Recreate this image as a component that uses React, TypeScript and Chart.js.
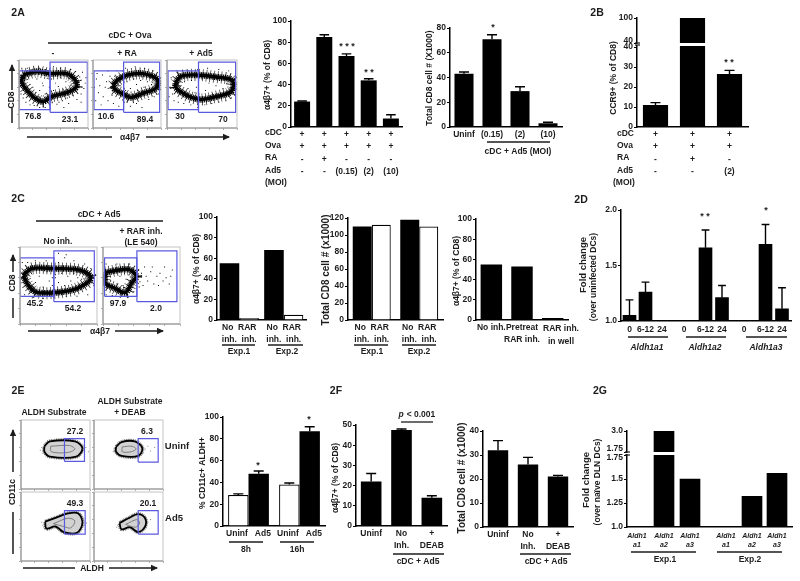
import React, { useEffect, useRef } from "react";
import { Chart, registerables } from "chart.js";

Chart.register(...registerables);

/* ---------- values ---------- */
const a1Labels = [["+", "+", "-", "-"], ["+", "+", "+", "-"], ["+", "+", "-", "(0.15)"], ["+", "+", "-", "(2)"], ["+", "+", "-", "(10)"]];
const a1Values = [24, 85, 67, 44, 8];
const a1Tops = [24.5, 87, 69, 45.5, 11.5];
const a2Labels = ["Uninf", "(0.15)", "(2)", "(10)"];
const a2Values = [43, 71, 29, 3];
const a2Tops = [44.5, 74.5, 32.5, 3.8];
const bLabels = [["+", "+", "-", "-"], ["+", "+", "+", "-"], ["+", "+", "-", "(2)"]];
const bValues = [11, 100, 26.5];
const bTops = [12.2, null, 28.3];
const c1Labels = [["No  RAR", "inh.  inh."], ["No  RAR", "inh.  inh."]];
const c1NoInh = [55, 68];
const c1Rar = [2, 5];
const c2NoInh = [110, 118];
const c2Rar = [112, 110];
const c3Labels = ["No inh.", ["Pretreat", "RAR inh."], ""];
const c3Values = [55, 53, 2];
const dLabels = ["0", "6-12", "24", "0", "6-12", "24", "0", "6-12", "24"];
const dValues = [1.05, 1.26, null, null, 1.66, 1.21, null, 1.69, 1.11];
const dTops = [1.19, 1.35, null, null, 1.82, 1.32, null, 1.87, 1.3];
const e1Labels = ["Uninf   Ad5", "Uninf   Ad5"];
const e1Uninf = [28.5, 38];
const e1Ad5 = [48, 87];
const e1UninfTops = [29.5, 39.5];
const e1Ad5Tops = [50.5, 91];
const f1Labels = ["Uninf", ["No", "Inh."], ["+", "DEAB"]];
const f1Values = [22, 47.5, 14];
const f1Tops = [26, 48, 15];
const f2Values = [32, 26, 21];
const f2Tops = [36, 29, 21.5];
const gLabels = [["Aldh1", "a1"], ["Aldh1", "a2"], ["Aldh1", "a3"], ["Aldh1", "a1"], ["Aldh1", "a2"], ["Aldh1", "a3"]];
const gValues = [null, 3, 1.5, null, 1.32, 1.56];

/* flow cytometry outlines and events, in percent of each plot */
type P = number[];
const contourA1: P[] = [[6,78],[25,83],[45,80],[69,80],[81,71],[83,60],[69,52],[47,46],[35,39],[23,44],[11,56],[4,68],[6,78]];
const contourA2: P[] = [[29,63],[37,71],[51,78],[73,80],[94,72],[93,59],[73,51],[56,45],[44,50],[32,57],[29,63]];
const contourA3: P[] = [[12,66],[20,76],[42,78],[70,75],[93,70],[92,54],[70,46],[49,42],[35,45],[23,51],[13,59],[12,66]];
const contourC1: P[] = [[4,63],[15,72],[43,72],[78,70],[92,60],[78,48],[57,42],[22,41],[11,50],[4,63]];
const contourC2: P[] = [[3,67],[33,71],[43,62],[37,53],[29,41],[14,47],[3,53],[3,67]];
const contourE1: P[] = [[34,62],[42,69],[78,69],[89,59],[80,47],[42,47],[34,54],[34,62]];
const contourE2: P[] = [[32,61],[40,68],[59,69],[70,59],[64,48],[40,48],[32,54],[32,61]];
const contourE3: P[] = [[35,57],[49,62],[68,69],[83,69],[89,55],[81,41],[62,42],[50,50],[37,47],[35,57]];
const contourE4: P[] = [[37,55],[50,62],[64,68],[74,62],[74,50],[64,42],[52,49],[40,46],[37,55]];
const innerE1: P[] = [[43,62],[70,63],[78,58],[68,53],[44,54],[43,62]];
const innerE2: P[] = [[41,61],[55,62],[61,58],[54,54],[41,54],[41,61]];
const innerE3: P[] = [[47,54],[68,62],[78,58],[72,48],[62,50],[47,54]];
const innerE4: P[] = [[46,53],[62,60],[66,55],[60,49],[46,53]];
const dotsA1: P[] = [[8,70],[14,75],[20,60],[26,72],[30,55],[34,66],[38,50],[41,73],[16,64],[24,52],[29,46],[35,62],[44,60],[47,72],[50,55],[53,66],[57,61],[60,74],[64,57],[68,68],[72,73],[75,62],[58,38],[63,40],[70,44],[78,48],[84,42],[90,50],[94,58],[96,66],[88,75],[82,83],[75,86],[60,88],[50,90],[55,35],[65,30],[72,36],[48,37],[90,38],[97,74],[92,82],[4,88],[12,88],[30,88],[38,86],[3,50],[6,44],[10,38],[16,34],[22,33],[30,30],[38,30],[44,34]];
const dotsA2: P[] = [[45,60],[50,68],[55,58],[60,72],[64,64],[70,70],[75,60],[80,68],[86,64],[58,50],[66,55],[72,75],[40,62],[84,74],[48,55],[5,72],[10,62],[14,78],[20,68],[25,76],[8,52],[15,46],[22,40],[18,60],[28,48],[4,40],[12,34],[30,36],[38,32],[46,38],[55,32],[64,36],[72,30],[82,42],[90,46],[96,50],[2,60],[6,80],[22,84],[35,84],[48,88],[62,90],[76,88],[88,84],[32,76],[26,60]];
const dotsA3: P[] = [[25,68],[30,58],[35,70],[40,52],[45,64],[50,72],[55,55],[60,66],[65,50],[70,62],[75,70],[80,58],[85,65],[88,52],[28,50],[42,60],[4,60],[6,74],[8,50],[10,40],[16,38],[24,36],[34,34],[44,30],[54,34],[64,36],[74,38],[84,40],[92,44],[97,56],[96,76],[88,84],[74,86],[58,88],[44,86],[30,84],[14,84],[3,46]];
const dotsC1: P[] = [[10,60],[15,66],[20,54],[25,62],[30,48],[35,68],[38,56],[42,50],[46,64],[42,60],[46,60],[50,54],[54,66],[58,50],[62,62],[66,56],[70,66],[75,60],[80,58],[18,48],[28,70],[3,80],[10,80],[20,82],[34,82],[50,80],[58,86],[70,82],[84,78],[92,72],[96,50],[88,38],[74,36],[60,36],[44,34],[30,33],[16,34],[6,38],[50,92],[60,90]];
const dotsC2: P[] = [[6,62],[10,56],[14,66],[18,52],[22,62],[26,50],[30,58],[34,64],[12,50],[20,46],[28,66],[36,56],[46,62],[48,55],[50,66],[52,50],[56,62],[58,56],[62,68],[66,52],[70,62],[74,66],[78,56],[82,60],[88,62],[90,70],[64,74],[72,50],[54,74],[46,70],[47,48],[80,74],[86,52],[4,38],[12,37],[24,36],[32,36],[40,42],[4,78],[18,78],[34,78]];
const dotsE1: P[] = [[90,58],[94,60],[98,54],[92,52],[30,60],[28,56],[31,52]];
const dotsE2: P[] = [[74,58],[78,62],[82,55],[88,60],[72,52],[29,58],[28,54]];
const dotsE3: P[] = [[92,52],[95,55],[90,60],[93,46],[31,52],[33,48],[30,56]];
const dotsE4: P[] = [[78,56],[82,60],[76,48],[34,52],[33,49]];
const gateCellsA: P[][] = [[[0,27],[45,27],[45,84],[0,84],[0,27]], [[45,23],[99,23],[99,97],[45,97],[45,23]]];
const gateCellsA2: P[][] = [[[1.5,27],[45,27],[45,84],[1.5,84],[1.5,27]], [[45,23],[98,23],[98,97],[45,97],[45,23]]];
const gateCellsC1: P[][] = [[[0,36],[44,36],[44,86],[0,86],[0,36]], [[44,29],[96.5,29],[96.5,95],[44,95],[44,29]]];
const gateCellsC2: P[][] = [[[2,36],[44,36],[44,86],[2,86],[2,36]], [[44,29],[96,29],[96,95],[44,95],[44,29]]];
const gateE: P[][] = [[[63,40],[92,40],[92,73],[63,73],[63,40]]];

/* ---------- page text and rules ---------- */
const FONT = '"Liberation Sans", Arial, sans-serif';
const INK = "#1c1c1c";
type Item = any;
const T = (s: string, x: number, y: number, o: any = {}): Item => ({ k: "t", s, x, y, ...o });
const R = (s: string, x: number, y: number, o: any = {}): Item => ({ k: "t", s, x, y, rot: true, ...o });
const L = (x1: number, y1: number, x2: number, y2: number, w = 1.3): Item => ({ k: "l", x1, y1, x2, y2, w });
const AR = (x1: number, y1: number, x2: number, y2: number): Item => ({ k: "a", x1, y1, x2, y2 });

const pageItems: Item[] = [
  T("2A", 18, 13, { size: 10.5 }), T("2B", 597, 13, { size: 10.5 }), T("2C", 18, 199, { size: 10.5 }),
  T("2D", 581, 200, { size: 10.5 }), T("2E", 18, 391, { size: 10.5 }), T("2F", 336, 391, { size: 10.5 }), T("2G", 600, 391, { size: 10.5 }),
  // 2A flow
  T("cDC + Ova", 130, 36), L(48, 43, 212, 43, 1.5), T("-", 53, 54), T("+ RA", 127, 54), T("+ Ad5", 201, 54),
  T("76.8", 33, 117), T("23.1", 70, 120), T("10.6", 106, 117), T("89.4", 145, 120), T("30", 180, 117), T("70", 223, 120),
  AR(12, 90, 12, 65), R("CD8", 12, 100), L(12, 108, 12, 123, 1.5), L(27, 137, 112, 137, 1.5), T("α4β7", 130, 138), AR(146, 137, 229, 137),
  // 2A bars
  R("α4β7+ (% of CD8)", 268, 75), T("* * *", 347, 47, { size: 9 }), T("* *", 369, 73, { size: 9 }),
  T("cDC", 265, 133, { align: "left" }), T("Ova", 265, 146, { align: "left" }), T("RA", 265, 158, { align: "left" }), T("Ad5", 265, 171, { align: "left" }), T("(MOI)", 265, 183, { align: "left" }),
  R("Total CD8 cell # (X1000)", 430, 78), T("*", 493, 28, { size: 9 }), L(487, 142, 550, 142, 1.3), T("cDC + Ad5 (MOI)", 518, 152),
  // 2B
  R("CCR9+ (% of CD8)", 614, 78), T("* *", 729, 63, { size: 9 }), L(635, 43, 640, 43, 1.2), L(635, 45, 640, 45, 1.2), T("40", 633, 41, { align: "right" }),
  T("cDC", 617, 134, { align: "left" }), T("Ova", 617, 146, { align: "left" }), T("RA", 617, 158, { align: "left" }), T("Ad5", 617, 171, { align: "left" }), T("(MOI)", 613, 183, { align: "left" }),
  // 2C flow
  T("cDC + Ad5", 99, 215), L(36, 221, 163, 221, 1.5), T("No inh.", 58, 242), T("+ RAR inh.", 141, 232), T("(LE 540)", 141, 243),
  T("45.2", 35, 304), T("54.2", 73, 309), T("97.9", 118, 304), T("2.0", 156, 309),
  AR(13, 272, 13, 255), R("CD8", 13, 283), L(13, 298, 13, 318, 1.5), L(28, 331, 81, 331, 1.5), T("α4β7", 100, 332), AR(115, 331, 163, 331),
  // 2C bars
  R("α4β7+ (% of CD8)", 197, 269), L(222, 345, 255, 345), T("Exp.1", 239, 352), L(268, 345, 303, 345), T("Exp.2", 287, 352),
  R("Total CD8 cell # (x1000)", 326, 270, { size: 10 }), L(354, 345, 388, 345), T("Exp.1", 372, 352), L(402, 345, 436, 345), T("Exp.2", 419, 352),
  R("α4β7+ (% of CD8)", 457, 271), T("RAR inh.", 561, 329), T("in well", 561, 342),
  // 2D
  R("Fold change", 583, 265, { size: 9.5 }), R("(over uninfected DCs)", 594, 277), T("* *", 705, 217, { size: 9 }), T("*", 766, 211, { size: 9 }),
  L(628, 337, 668, 337), L(686, 337, 726, 337), L(746, 337, 787, 337),
  T("Aldh1a1", 647, 348, { italic: true }), T("Aldh1a2", 705, 348, { italic: true }), T("Aldh1a3", 766, 348, { italic: true }),
  // 2E flow
  T("ALDH Substrate", 54, 413), T("ALDH Substrate", 130, 402), T("+ DEAB", 130, 413),
  T("27.2", 75, 432), T("6.3", 147, 432), T("49.3", 75, 504), T("20.1", 148, 504), T("Uninf", 177, 446, { size: 9.5 }), T("Ad5", 174, 518, { size: 9.5 }),
  AR(13, 472, 13, 430), R("CD11c", 13, 492), L(13, 512, 13, 554, 1.5), L(23, 568, 75, 568, 1.5), T("ALDH", 92, 569), AR(109, 568, 157, 568),
  // 2E bars
  R("% CD11c+ ALDH+", 203, 473), T("*", 258, 466, { size: 9 }), T("*", 309, 420, { size: 9 }),
  L(229, 542, 263, 542), T("8h", 246, 550), L(280, 542, 314, 542), T("16h", 297, 550),
  // 2F
  R("α4β7+ (% of CD8)", 336, 478), T("p", 401, 415, { italic: true }), T("< 0.001", 421, 415), L(401, 422, 433, 422), L(393, 554, 444, 554), T("cDC + Ad5", 418, 562),
  R("Total CD8 cell # (x1000)", 462, 478, { size: 10 }), L(520, 554, 571, 554), T("cDC + Ad5", 546, 562),
  // 2G
  R("Fold change", 586, 480, { size: 9.5 }), R("(over naïve DLN DCs)", 598, 482), L(625, 452, 630, 452, 1.2), L(625, 455, 630, 455, 1.2),
  T("1.75", 623, 449, { align: "right" }), T("1.75", 623, 458, { align: "right" }),
  L(631, 552, 696, 552), T("Exp.1", 665, 560), L(717, 552, 782, 552), T("Exp.2", 750, 560),
];

/* ---------- plugins ---------- */
const pagePlugin = {
  id: "page",
  afterDraw(chart: any) {
    const ctx = chart.ctx;
    ctx.save();
    ctx.strokeStyle = INK;
    ctx.fillStyle = INK;
    for (const it of pageItems) {
      if (it.k === "t") {
        ctx.save();
        ctx.font = `${it.italic ? "italic " : ""}bold ${it.size || 8.5}px ${FONT}`;
        ctx.textAlign = it.align || "center";
        ctx.textBaseline = "middle";
        ctx.translate(it.x, it.y);
        if (it.rot) ctx.rotate(-Math.PI / 2);
        ctx.fillText(it.s, 0, 0);
        ctx.restore();
      } else {
        ctx.lineWidth = it.w || 1.5;
        ctx.beginPath();
        ctx.moveTo(it.x1, it.y1);
        ctx.lineTo(it.x2, it.y2);
        ctx.stroke();
        if (it.k === "a") {
          const a = Math.atan2(it.y2 - it.y1, it.x2 - it.x1);
          ctx.save();
          ctx.translate(it.x2, it.y2);
          ctx.rotate(a);
          ctx.beginPath();
          ctx.moveTo(1, 0);
          ctx.lineTo(-6, -3.2);
          ctx.lineTo(-6, 3.2);
          ctx.closePath();
          ctx.fill();
          ctx.restore();
        }
      }
    }
    ctx.restore();
  },
};

const errorPlugin = {
  id: "errs",
  afterDatasetsDraw(chart: any) {
    const ctx = chart.ctx;
    const ys = chart.scales.y;
    ctx.save();
    ctx.strokeStyle = "#000";
    ctx.lineWidth = 1.4;
    chart.data.datasets.forEach((ds: any, di: number) => {
      if (!ds.tops) return;
      chart.getDatasetMeta(di).data.forEach((el: any, i: number) => {
        const top = ds.tops[i];
        if (top == null) return;
        const y = ys.getPixelForValue(top);
        const half = Math.min(el.width * 0.3, 5);
        ctx.beginPath();
        ctx.moveTo(el.x, el.y);
        ctx.lineTo(el.x, y);
        ctx.moveTo(el.x - half, y);
        ctx.lineTo(el.x + half, y);
        ctx.stroke();
      });
    });
    ctx.restore();
  },
};

const framePlugin = {
  id: "frame",
  afterDraw(chart: any) {
    const { left, top, right, bottom } = chart.chartArea;
    const ctx = chart.ctx;
    ctx.save();
    ctx.strokeStyle = "#c4c4c4";
    ctx.lineWidth = 1;
    ctx.strokeRect(left, top, right - left, bottom - top);
    ctx.strokeStyle = "#8a8a8a";
    ctx.beginPath();
    ctx.moveTo(left, top);
    ctx.lineTo(left, bottom);
    ctx.lineTo(right, bottom);
    ctx.stroke();
    ctx.restore();
  },
};

/* ---------- builders ---------- */
const tickFont = { family: FONT, weight: "bold" as const, size: 8.5, lineHeight: "12.5px" };
const AXW = 40;
const AXH = 50;
const area = (box: number[], w: number, h: number) => ({ padding: { left: box[0] - w, top: box[1], right: 800 - box[2], bottom: 581 - box[3] - h } });
const fitW = (w: number) => (s: any) => { s.width = w; };
const fitH = (h: number) => (s: any) => { s.height = h; };

function xAxis(extra: any = {}, showBorder = true) {
  return {
    afterFit: fitH(showBorder ? AXH : 0),
    grid: { display: false, drawTicks: false },
    border: { display: showBorder, color: "#000", width: 1.5 },
    ticks: { display: showBorder, color: INK, font: tickFont, padding: 1, autoSkip: false, maxRotation: 0, minRotation: 0 },
    ...extra,
  };
}
function yAxis(min: number, max: number, step: number, extraTicks: any = {}) {
  return {
    min, max,
    afterFit: fitW(AXW),
    grid: { drawOnChartArea: false, drawTicks: true, tickLength: 3, tickColor: "#000", tickWidth: 1.2 },
    border: { color: "#000", width: 1.5 },
    ticks: { stepSize: step, color: INK, font: tickFont, padding: 1, includeBounds: false, ...extraTicks },
  };
}
const base = (box: number[], scales: any, w = AXW, h = AXH) => ({
  responsive: false, animation: false as const, events: [] as string[],
  layout: area(box, w, h), scales,
  plugins: { legend: { display: false }, tooltip: { enabled: false } },
});
function catBar(box: number[], labels: any[], y: any, sets: any[], frac: number, xShow = true) {
  return {
    type: "bar",
    data: {
      labels,
      datasets: sets.map((s) => ({
        data: s.data, tops: s.tops,
        backgroundColor: s.hollow ? "#fff" : "#000", borderColor: "#000", borderWidth: s.hollow ? 1.2 : 0,
        categoryPercentage: frac, barPercentage: 1,
      })),
    },
    options: base(box, { x: xAxis({}, xShow), y }, AXW, xShow ? AXH : 0),
    plugins: [errorPlugin],
  };
}
function slotBar(box: number[], labels: any[], slots: number[], values: any[], tops: any[] | null, thick: number, y: any, font: any = tickFont, xShow = true, pad = 2) {
  return {
    type: "bar",
    data: {
      datasets: [{
        data: values.map((v, i) => ({ x: slots[i], y: v })),
        tops, backgroundColor: "#000", barThickness: thick,
      }],
    },
    options: base(box, {
      x: xAxis({
        type: "linear", offset: false, min: 0, max: box[2] - box[0],
        afterBuildTicks: (s: any) => { s.ticks = slots.map((v) => ({ value: v })); },
        ticks: { display: xShow, color: INK, font, padding: pad, autoSkip: false, maxRotation: 0, minRotation: 0, callback: (_: any, i: number) => labels[i] },
      }, xShow),
      y,
    }, AXW, xShow ? AXH : 0),
    plugins: [errorPlugin],
  };
}
function flow(box: number[], contour: P[], dots: P[], gates: P[][], kind: "dense" | "grey", inner?: P[]) {
  const pts = (a: P[]) => a.map(([x, y]) => ({ x, y }));
  const dense = kind === "dense";
  const sets: any[] = [];
  gates.forEach((g) => sets.push({ data: pts(g), showLine: true, borderColor: "#5a5ae0", borderWidth: 1.2, pointRadius: 0, tension: 0 }));
  if (inner) sets.push({ data: pts(inner), showLine: true, borderColor: "#7d7d7d", borderWidth: 1, pointRadius: 0, tension: 0.35 });
  sets.push({ data: pts(dots), showLine: false, pointRadius: 0.7, pointStyle: "rect", backgroundColor: dense ? "#000" : "#888", borderWidth: 0 });
  sets.push({
    data: pts(contour), showLine: true, borderColor: "#000", borderWidth: dense ? 3.4 : 1.8, pointRadius: 0, tension: 0.35,
    ...(dense ? {} : { fill: "shape", backgroundColor: "#d2d2d2" }),
  });
  sets.push({
    data: pts(contour), showLine: true, borderColor: dense ? "#000" : "#777", borderWidth: dense ? 6.5 : 4,
    borderDash: [1, 0.7], pointRadius: 0, tension: 0.35,
  });
  if (dense) {
    sets.push({
      data: pts(contour), showLine: true, borderColor: "#222", borderWidth: 12,
      borderDash: [0.7, 3.1], pointRadius: 0, tension: 0.35,
    });
  }
  const ax = {
    min: 0, max: 100,
    grid: { drawOnChartArea: false, drawTicks: true, tickLength: 2, tickColor: "#999", tickWidth: 0.8 },
    border: { display: false },
    ticks: { display: false, stepSize: 20 },
  };
  return {
    type: "scatter",
    data: { datasets: sets },
    options: base(box, { x: { ...ax, afterFit: fitH(0) }, y: { ...ax, afterFit: fitW(0) } }, 0, 0),
    plugins: [framePlugin],
  };
}

const gate2 = (v: number[]) => [[[v[0], 39], [v[1], 39], [v[1], 73], [v[0], 73], [v[0], 39]]] as P[][];
const fmtG = (v: number) => (v === 1 ? "1.0" : v === 3 ? "3.0" : v === 1.75 ? "" : String(v));
const fmtB = (v: number) => (v === 40 ? "" : String(v));
const gSlots = [10, 37, 63, 99, 125, 150];

const configs: any[] = [
  // 2A flow
  flow([19, 60, 88, 128], contourA1, dotsA1, gateCellsA, "dense"),
  flow([93, 60, 161, 128], contourA2, dotsA2, gateCellsA2, "dense"),
  flow([167, 60, 237, 128], contourA3, dotsA3, gateCellsA2, "dense"),
  // 2A bars
  catBar([291, 21, 402, 127], a1Labels, yAxis(0, 100, 20), [{ data: a1Values, tops: a1Tops }], 0.72),
  catBar([450, 28, 562, 127], a2Labels, yAxis(0, 80, 20), [{ data: a2Values, tops: a2Tops }], 0.68),
  // 2B broken axis
  catBar([637, 46, 748, 127], bLabels, yAxis(0, 40.5, 10), [{ data: bValues, tops: bTops }], 0.68),
  catBar([637, 18, 748, 43], bLabels, yAxis(40, 100, 30, { callback: fmtB }), [{ data: bValues }], 0.68, false),
  // 2C flow
  flow([20, 247, 97, 324], contourC1, dotsC1, gateCellsC1, "dense"),
  flow([103, 247, 180, 324], contourC2, dotsC2, gateCellsC2, "dense"),
  // 2C bars
  catBar([217, 217, 306, 320], c1Labels, yAxis(0, 100, 20), [{ data: c1NoInh }, { data: c1Rar, hollow: true }], 0.88),
  catBar([348, 218, 443, 320], c1Labels, yAxis(0, 120, 20), [{ data: c2NoInh }, { data: c2Rar, hollow: true }], 0.8),
  catBar([476, 219, 568, 320], c3Labels, yAxis(0, 100, 20), [{ data: c3Values }], 0.7),
  // 2D
  slotBar([621, 210, 791, 321], dLabels, [8.5, 24.5, 41, 63, 84.5, 101, 123, 144.5, 161], dValues, dTops, 13,
    yAxis(1, 2, 0.5, { callback: (v: number) => v.toFixed(1) })),
  // 2E flow
  flow([21, 420, 90, 489], contourE1, dotsE1, gateE, "grey", innerE1),
  flow([94, 420, 163, 489], contourE2, dotsE2, gate2([64, 93]), "grey", innerE2),
  flow([21, 492, 90, 561], contourE3, dotsE3, gate2([63, 93]), "grey", innerE3),
  flow([94, 492, 163, 561], contourE4, dotsE4, gate2([64, 93]), "grey", innerE4),
  // 2E bars
  catBar([223, 417, 325, 526], e1Labels, yAxis(0, 100, 20), [{ data: e1Uninf, tops: e1UninfTops, hollow: true }, { data: e1Ad5, tops: e1Ad5Tops }], 0.8),
  // 2F
  catBar([356, 425, 447, 526], f1Labels, yAxis(0, 50, 10), [{ data: f1Values, tops: f1Tops }], 0.68),
  catBar([483, 431, 573, 527], f1Labels, yAxis(0, 40, 10), [{ data: f2Values, tops: f2Tops }], 0.68),
  // 2G broken axis
  slotBar([627, 455, 792, 527], gLabels, gSlots, gValues, null, 20,
    yAxis(1, 1.75, 0.25, { callback: fmtG }), { ...tickFont, style: "italic", lineHeight: "9px", size: 7 }, true, 5),
  slotBar([627, 431, 792, 452], gLabels, gSlots, gValues, null, 20,
    yAxis(1.75, 3, 1.25, { callback: fmtG }), tickFont, false),
];

export default function App() {
  const refs = useRef<(HTMLCanvasElement | null)[]>([]);
  useEffect(() => {
    const charts = configs.map((c, i) => {
      const extra = i === configs.length - 1 ? [pagePlugin] : [];
      return new Chart(refs.current[i] as HTMLCanvasElement, { ...c, plugins: [...c.plugins, ...extra] });
    });
    return () => charts.forEach((c) => c.destroy());
  }, []);
  return (
    <div style={{ position: "fixed", left: 0, top: 0, width: 800, height: 581, background: "#fff", overflow: "hidden" }}>
      {configs.map((_, i) => (
        <canvas
          key={i}
          ref={(el) => { refs.current[i] = el; }}
          width={800}
          height={581}
          style={{ position: "absolute", left: 0, top: 0, width: 800, height: 581 }}
        />
      ))}
    </div>
  );
}
